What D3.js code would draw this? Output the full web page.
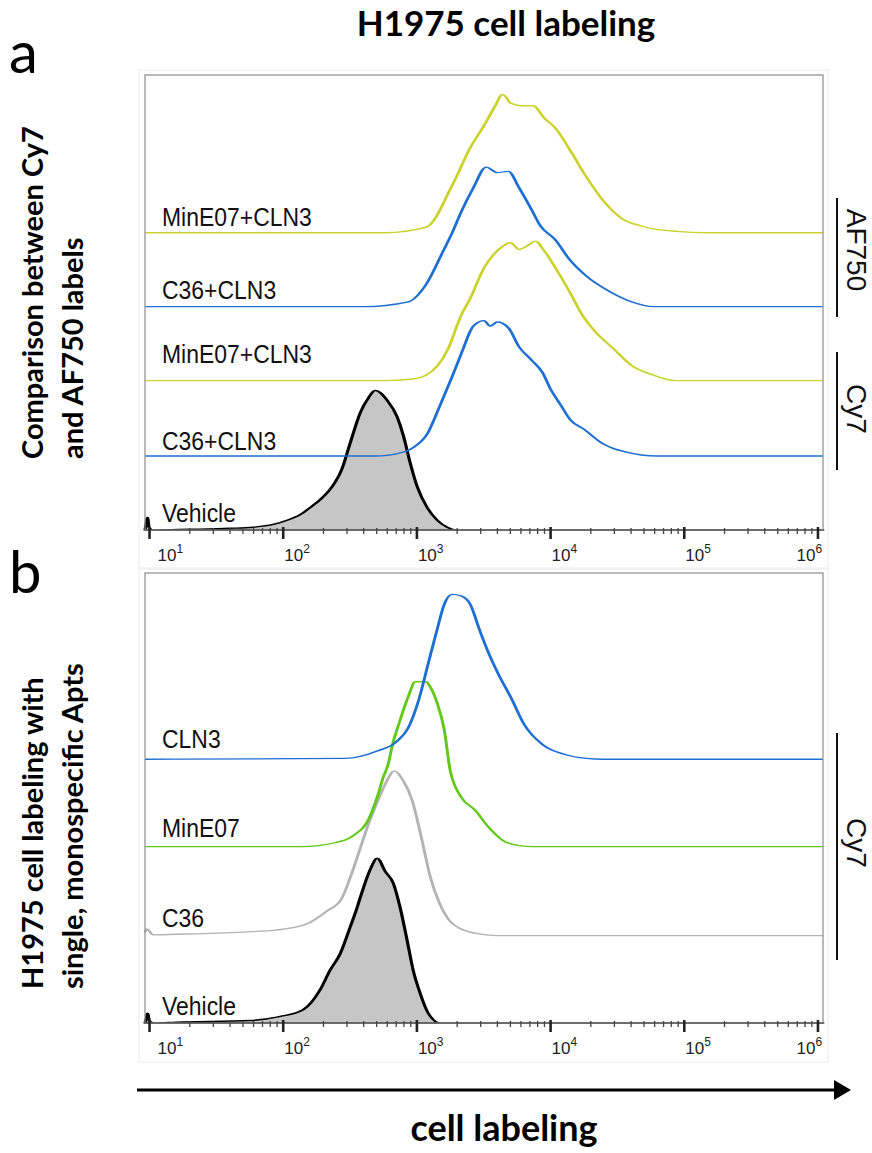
<!DOCTYPE html>
<html>
<head>
<meta charset="utf-8">
<script src="https://cdn.jsdelivr.net/npm/d3@7"></script>
<style>
  body { margin: 0; background: #fff; }
  svg { display: block; }
</style>
</head>
<body>
<div id="chart"></div>
<script>
// histograms: [intensity, % of mode]
const xTicks = [10, 100, 1000, 10000, 100000, 1000000];

const vehicleA = [[9.33,0],[9.5,4],[9.75,9],[10.0,2],[10.6,0],[20,0.5],[40,1.2],[60,2],[85,4],[108,7],[135,11],[160,16],[197,23],[234,31],[278,44],[319,62],[380,84],[440,95],[492,100],[604,93],[718,81],[797,68],[899,48],[1014,31],[1205,16],[1432,7],[1700,2],[2000,0],[1100000,0]];
const c36Cy7 = [[9.33,0],[500,0],[604,0.5],[706,1.5],[964,6.5],[1225,17],[1383,28],[1561,40],[1854,57],[2200,75],[2661,93],[3216,97],[3565,93],[4025,96],[4864,92],[5875,78],[7223,69],[8743,60],[10210,47],[11920,37],[14150,26],[18030,19],[24590,9],[36560,3],[63430,0],[1100000,0]];
const minE07Cy7 = [[9.33,0],[584,0],[900,1],[1183,4],[1730,23],[2164,47],[2530,59],[3216,81],[3758,90],[4387,96],[5036,99],[5875,94],[6866,97],[7750,100],[9055,93],[10940,81],[13930,64],[17420,47],[21790,35],[29710,23],[40550,11],[59160,4],[88100,0],[1100000,0]];
const c36AF750 = [[9.33,0],[400,0],[869,3.5],[1183,16],[1588,40],[1854,53],[2164,68],[2661,85],[3327,100],[4025,96],[4864,97],[5875,85],[7223,70],[8450,58],[10940,48],[13930,34],[18660,22],[27740,11],[40550,3.5],[59160,0],[1100000,0]];
const minE07AF750 = [[9.33,0],[584,0],[1183,4],[1854,34],[2530,61],[3216,77],[3890,91],[4387,99],[4699,97],[5036,93],[6194,91],[7484,91],[9055,82],[10940,75],[13930,60],[18660,40],[25470,22],[34670,10],[47300,5],[88100,1],[150000,0],[1100000,0]];

const vehicleB = [[9.33,0],[9.5,2],[9.75,6],[10.1,1],[11,0],[16,0.5],[57,1.5],[96,4],[142,8],[190,20],[226,32],[269,42],[319,58],[360,70],[380,76],[451,93],[509,100],[584,92],[670,85],[756,70],[853,50],[946,32],[1067,18],[1225,6],[1507,0],[1100000,0]];
const c36B = [[9.33,2],[9.66,4],[10.7,0.5],[18.6,1],[59,2.4],[101,4],[160,8],[215,15],[274,22],[319,35],[373,51],[435,67],[509,81],[594,93],[682,100],[797,94],[930,82],[1086,60],[1267,36],[1482,20],[1730,10],[2164,4],[2951,1],[4025,0],[1100000,0]];
const minE07B = [[9.33,0],[137,0],[251,2.5],[342,7],[435,16],[509,30],[564,42],[615,50],[659,61],[743,75],[869,91],[980,100],[1183,100],[1267,97],[1432,87],[1615,71],[1791,46],[2164,30],[2754,22],[3446,12],[4387,4],[5875,0.6],[7484,0],[1100000,0]];
const cln3B = [[9.33,0],[293,0.5],[509,5],[718,11],[869,19],[1050,37],[1225,58],[1432,79],[1615,94],[1854,100],[2164,99],[2530,94],[2951,79],[3446,65],[4025,53],[5128,37],[6412,21],[8743,9],[12770,3],[18660,0.5],[25000,0],[1100000,0]];

const labelsA = ["Vehicle", "C36+CLN3", "MinE07+CLN3", "C36+CLN3", "MinE07+CLN3"];
const seriesA = [vehicleA, c36Cy7, minE07Cy7, c36AF750, minE07AF750];
const offsetsA = [0, 53, 107, 160, 213];

const labelsB = ["Vehicle", "C36", "MinE07", "CLN3"];
const seriesB = [vehicleB, c36B, minE07B, cln3B];
const offsetsB = [0, 53, 107, 160];

const BLUE = "#1e6fd2", YELLOW = "#cbd22c", GREEN = "#62c81a", GRAY = "#b3b3b3";
const ARIAL = "Liberation Sans, Arial, Helvetica, sans-serif";
const BOLD = "Lato, sans-serif";

const W = 872, H = 1153;
const plotLeft = 145, plotRight = 823;
const k = 0.45; // squash so flat baselines render thinner than slopes

const panels = [
  { top: 75, axisY: 530, yMax: 326, labels: labelsA, series: seriesA, offsets: offsetsA,
    colors: ["#000", BLUE, YELLOW, BLUE, YELLOW], lift: [8, 6, 18, 8, 7],
    brackets: [[198, 317, 250, "AF750"], [352, 470, 409, "Cy7"]],
    letter: "a", letterY: 73, side: ["Comparison between Cy7", "and AF750 labels"], sideY: 459 },
  { top: 573, axisY: 1023, yMax: 273, labels: labelsB, series: seriesB, offsets: offsetsB,
    colors: ["#000", GRAY, GREEN, BLUE], lift: [8, 9, 10, 11],
    brackets: [[733, 960, 843, "Cy7"]],
    letter: "b", letterY: 593, side: ["H1975 cell labeling with", "single, monospecific Apts"], sideY: 989 }
];

const svg = d3.select("#chart").append("svg").attr("width", W).attr("height", H);

const x = d3.scaleLog().domain([9.33, 1100000]).range([plotLeft, plotRight]);

svg.append("text")
  .attr("x", 506).attr("y", 36)
  .attr("text-anchor", "middle")
  .attr("font-family", BOLD).attr("font-weight", 700).attr("font-size", 35)
  .text("H1975 cell labeling");

const minorTicks = d3.range(1, 6).flatMap(e => d3.range(2, 10).map(m => m * 10 ** e));

panels.forEach(p => {
  const y = d3.scaleLinear().domain([0, p.yMax]).range([p.axisY, p.top]);

  // faint outer export border
  svg.append("rect")
    .attr("x", 139).attr("y", p.top - 5).attr("width", 689).attr("height", p.axisY - p.top + 44)
    .attr("fill", "none").attr("stroke", "#ececec");

  const squash = svg.append("g").attr("transform", `scale(1,${k})`);

  p.series.forEach((data, i) => {
    const off = p.offsets[i];
    if (i === 0) {
      const area = d3.area().curve(d3.curveMonotoneX)
        .x(d => x(d[0])).y0(y(off) / k).y1(d => y(d[1] + off) / k);
      squash.append("path").datum(data).attr("d", area)
        .attr("fill", "#c6c6c6").attr("stroke", "#000").attr("stroke-width", 3.2)
        .attr("stroke-linejoin", "round");
    } else {
      const line = d3.line().curve(d3.curveMonotoneX)
        .x(d => x(d[0])).y(d => y(d[1] + off) / k);
      squash.append("path").datum(data).attr("d", line)
        .attr("fill", "none").attr("stroke", p.colors[i]).attr("stroke-width", 3)
        .attr("stroke-linejoin", "round");
    }
  });

  // plot frame
  svg.append("rect")
    .attr("x", plotLeft).attr("y", p.top)
    .attr("width", plotRight - plotLeft).attr("height", p.axisY - p.top)
    .attr("fill", "none").attr("stroke", "#8a8a8a").attr("stroke-width", 1.2);

  // minor ticks
  const minor = svg.append("g").attr("transform", `translate(0,${p.axisY - 2})`)
    .call(d3.axisBottom(x).tickValues(minorTicks).tickSize(6).tickSizeOuter(0).tickFormat(""));
  minor.select(".domain").remove();
  minor.selectAll(".tick line").attr("stroke", "#444").attr("stroke-width", 1.3);

  // major ticks + labels
  const major = svg.append("g").attr("transform", `translate(0,${p.axisY - 3})`)
    .attr("font-family", ARIAL).attr("font-size", 17)
    .call(d3.axisBottom(x).tickValues(xTicks).tickSize(12).tickSizeOuter(0).tickFormat(""));
  major.select(".domain").remove();
  major.selectAll(".tick line").attr("stroke", "#222").attr("stroke-width", 2.6);
  major.selectAll(".tick text").each(function(d) {
    const px = x(d);
    const left = Math.max(plotLeft + 12, Math.min(plotRight - 27, px + 1));
    const t = d3.select(this)
      .attr("x", left - px).attr("y", 34).attr("dy", null)
      .attr("text-anchor", "start").attr("fill", "#222")
      .attr("font-size", 17);
    t.text(null);
    t.append("tspan").text("10");
    t.append("tspan").attr("dy", -8).attr("font-size", 12).text(Math.round(Math.log10(d)));
  });

  // series labels (slightly condensed face)
  p.labels.forEach((name, i) => {
    svg.append("text")
      .attr("transform", `translate(${plotLeft + 17},${y(p.offsets[i]) - p.lift[i]}) scale(0.9,1)`)
      .attr("font-family", ARIAL).attr("font-size", 25.5)
      .attr("fill", "#111")
      .text(name);
  });

  // right brackets
  p.brackets.forEach(([y0, y1, yc, txt]) => {
    svg.append("line").attr("x1", 837).attr("x2", 837).attr("y1", y0).attr("y2", y1)
      .attr("stroke", "#111").attr("stroke-width", 2);
    svg.append("text")
      .attr("transform", `translate(847,${yc}) rotate(90)`)
      .attr("text-anchor", "middle")
      .attr("font-family", ARIAL).attr("font-size", 28)
      .attr("fill", "#111")
      .text(txt);
  });

  // panel letter
  svg.append("text").attr("x", 9).attr("y", p.letterY)
    .attr("font-family", BOLD).attr("font-size", 58)
    .text(p.letter);

  // side title
  p.side.forEach((s, j) => {
    svg.append("text")
      .attr("transform", `translate(${43 + j * 40},${p.sideY}) rotate(-90)`)
      .attr("text-anchor", "start")
      .attr("font-family", BOLD).attr("font-weight", 700).attr("font-size", 29)
      .text(s);
  });
});

// bottom arrow
svg.append("line").attr("x1", 137).attr("x2", 836).attr("y1", 1090).attr("y2", 1090)
  .attr("stroke", "#000").attr("stroke-width", 3);
svg.append("path").attr("d", "M834,1080 L851,1090 L834,1100 Z").attr("fill", "#000");

svg.append("text")
  .attr("x", 504).attr("y", 1141)
  .attr("text-anchor", "middle")
  .attr("font-family", BOLD).attr("font-weight", 700).attr("font-size", 36)
  .text("cell labeling");
</script>
</body>
</html>
